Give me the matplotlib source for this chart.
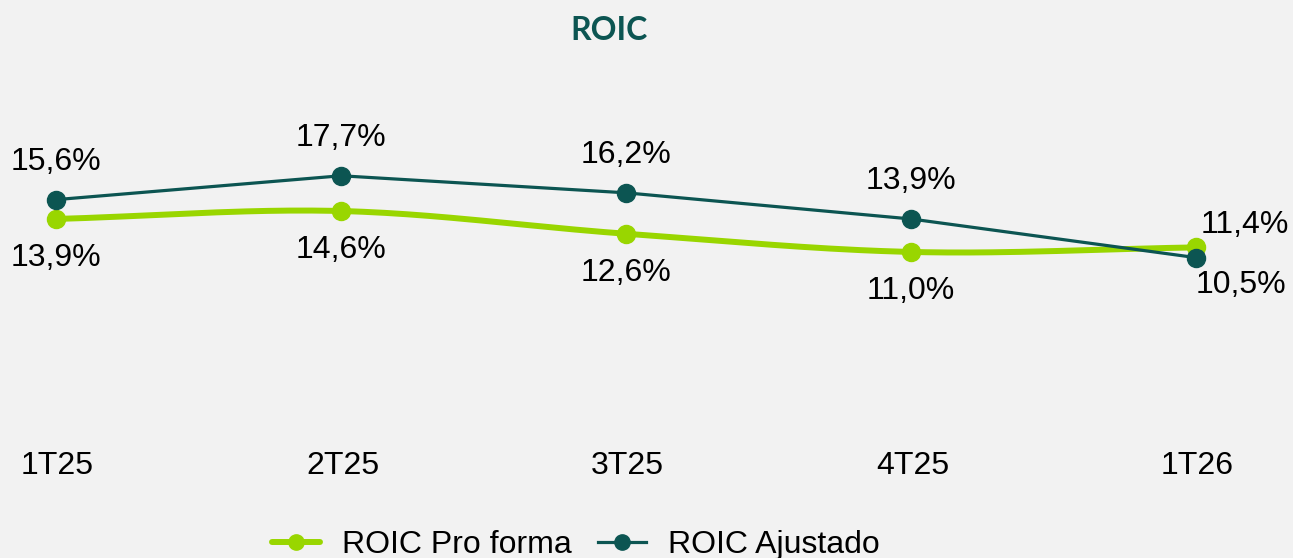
import matplotlib.pyplot as plt
import numpy as np

quarters = ['1T25', '2T25', '3T25', '4T25', '1T26']
roic_pro_forma = [13.9, 14.6, 12.6, 11.0, 11.4]
roic_ajustado = [15.6, 17.7, 16.2, 13.9, 10.5]

green = '#99d600'
teal = '#0c5552'
bg = '#f2f2f2'

plt.rcParams['font.family'] = ['Liberation Sans', 'DejaVu Sans']


def smooth(xs, ys, n=40):
    # catmull-rom curve through the points, like the smoothed line in the source
    xs = np.asarray(xs, float)
    ys = np.asarray(ys, float)
    px = np.concatenate([[2 * xs[0] - xs[1]], xs, [2 * xs[-1] - xs[-2]]])
    py = np.concatenate([[2 * ys[0] - ys[1]], ys, [2 * ys[-1] - ys[-2]]])
    outx, outy = [], []
    for i in range(1, len(px) - 2):
        t = np.linspace(0, 1, n)
        for p, out in ((px, outx), (py, outy)):
            p0, p1, p2, p3 = p[i - 1], p[i], p[i + 1], p[i + 2]
            out.extend(0.5 * (2 * p1 + (-p0 + p2) * t
                              + (2 * p0 - 5 * p1 + 4 * p2 - p3) * t ** 2
                              + (-p0 + 3 * p1 - 3 * p2 + p3) * t ** 3))
    return outx, outy


fig = plt.figure(figsize=(12.93, 5.58), dpi=100, facecolor=bg)
ax = fig.add_axes([0, 0, 1, 1])
ax.set_facecolor(bg)
ax.set_xlim(-0.1965, 4.34)
ax.set_ylim(-15.92, 33.16)
ax.axis('off')

x = np.arange(len(quarters))

sx, sy = smooth(x, roic_pro_forma)
ax.plot(sx, sy, color=green, lw=4.3, solid_capstyle='round', zorder=2)
ax.plot(x, roic_pro_forma, 'o', color=green, ms=13, zorder=3)
ax.plot(x, roic_ajustado, color=teal, lw=2.3, marker='o', ms=13, zorder=4)

fs = 23
fmt = lambda v: f'{v:.1f}%'.replace('.', ',')
for i, (a, b) in enumerate(zip(roic_pro_forma, roic_ajustado)):
    if i < len(quarters) - 1:
        ax.annotate(fmt(b), (i, b), xytext=(0, 27), textcoords='offset points',
                    ha='center', va='center', fontsize=fs)
        ax.annotate(fmt(a), (i, a), xytext=(0, -28), textcoords='offset points',
                    ha='center', va='center', fontsize=fs)
    else:
        ax.annotate(fmt(a), (i, a), xytext=(35, 16), textcoords='offset points',
                    ha='center', va='center', fontsize=fs)
        ax.annotate(fmt(b), (i, b), xytext=(32, -20), textcoords='offset points',
                    ha='center', va='center', fontsize=fs)

for i, q in enumerate(quarters):
    ax.text(i + 0.005, -7.83, q, ha='center', va='center', fontsize=fs)

fig.text(609 / 1293, 1 - 31 / 558, 'ROIC', ha='center', va='center',
         fontsize=23, fontweight='bold', color=teal, family=['Lato', 'DejaVu Sans'])

h1, = ax.plot([], [], color=green, lw=4.3, marker='o', ms=11, solid_capstyle='round')
h2, = ax.plot([], [], color=teal, lw=2.3, marker='o', ms=11)
fig.legend([h1, h2], ['ROIC Pro forma', 'ROIC Ajustado'], loc='center',
           bbox_to_anchor=(576 / 1293, 1 - 545 / 558), ncol=2, frameon=False,
           fontsize=fs, handlelength=1.5, handletextpad=0.7, columnspacing=0.8)

fig.savefig('out.png', dpi=100, facecolor=bg)
